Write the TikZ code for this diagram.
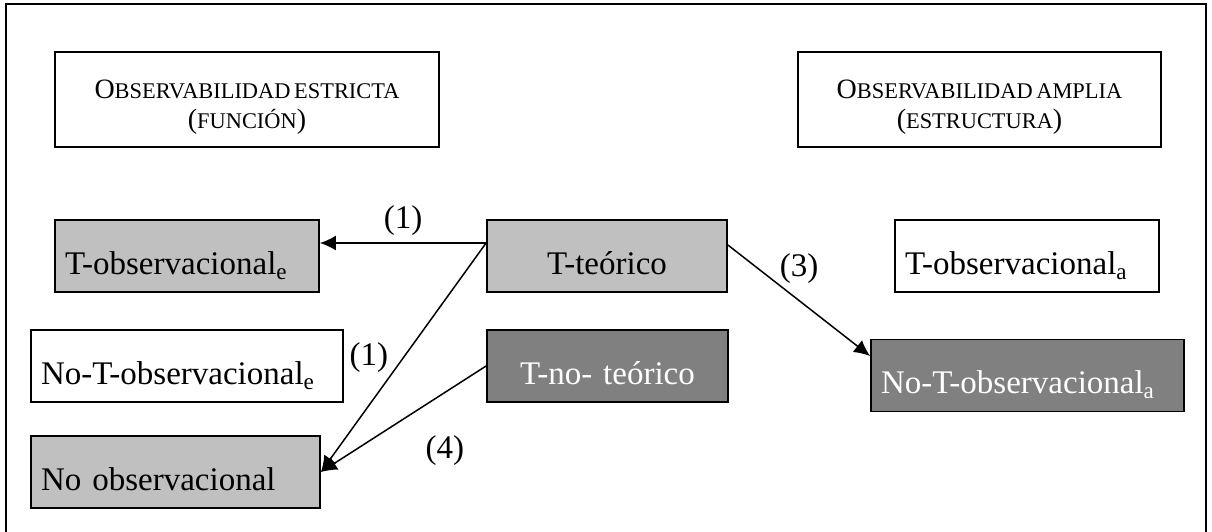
\documentclass[tikz,border=0pt]{standalone}
\usepackage{fontspec}
\setmainfont{Liberation Serif}
\usetikzlibrary{arrows.meta,positioning}
\definecolor{grisclaro}{RGB}{192,192,192}
\definecolor{grisoscuro}{RGB}{128,128,128}
\newcommand{\versal}[1]{{\fontsize{11.2}{15}\selectfont #1}}

\begin{document}
\begin{tikzpicture}[x=0.5pt, y=-0.5pt,
  texto/.style={font=\fontsize{16.5}{19}\selectfont},
  caja/.style={texto, draw, line width=0.9pt, minimum height=36pt, inner xsep=5pt, inner ysep=0pt, text height=18pt, text depth=0pt},
  titulo/.style={draw, line width=0.9pt, minimum height=47.5pt, inner xsep=5pt, align=center, font=\fontsize{14}{15}\selectfont},
  gris/.style={fill=grisclaro},
  oscuro/.style={fill=grisoscuro, text=white},
  flecha/.style={-{Latex[length=8pt, width=7.5pt]}, line width=0.75pt}]
\def\fa{256}
\def\fb{366}

\useasboundingbox (0,0) rectangle (1212,531);
\clip (0,0) rectangle (1212,531);
\draw[line width=1pt] (6,4) rectangle (1206,560);

\node[titulo, text width=182pt] (estricta) at (247, 99.5) {\rule{0pt}{17pt}O\versal{BSERVABILIDAD\,ESTRICTA}\\(\versal{FUNCIÓN})};
\node[titulo, text width=171.5pt] (amplia) at (979.5, 99.5) {\rule{0pt}{17pt}O\versal{BSERVABILIDAD\,AMPLIA}\\(\versal{ESTRUCTURA})};

\node[caja, gris, text width=122pt, align=left] (tobse) at (187, \fa) {T-observacional\textsubscript{e}};
\node[caja, gris, text width=110pt, align=center] (tteo) at (607, \fa) {T-teórico};
\node[caja, text width=122pt, align=left] (tobsa) at (1027, \fa) {T-observacional\textsubscript{a}};
\node[caja, text width=146pt, align=left] (notobse) at (187, \fb) {No-T-observacional\textsubscript{e}};
\node[caja, oscuro, text width=110.5pt, align=center] (tnoteo) at (607.5, \fb) {T-no- teórico};
\node[caja, oscuro, text width=146.5pt, align=left] (notobsa) at (1027.5, 375.5) {No-T-observacional\textsubscript{a}};
\node[caja, gris, text width=134.5pt, align=left] (noobs) at (175.5, 472) {No observacional};

\draw ([yshift=6.5pt]tteo.west) edge[flecha] node[texto, above] {(1)} ([yshift=6.5pt]tobse.east);
\draw ([yshift=6.5pt]tteo.west) edge[flecha] node[texto, left=4pt] {(1)} (noobs.east);
\draw (tnoteo.west) edge[flecha] node[texto, pos=0.25, below=18pt] {(4)} (noobs.east);
\draw ([yshift=5.5pt]tteo.east) edge[flecha] node[texto, above=5pt] {(3)} ([yshift=9.75pt]notobsa.west);
\end{tikzpicture}
\end{document}
